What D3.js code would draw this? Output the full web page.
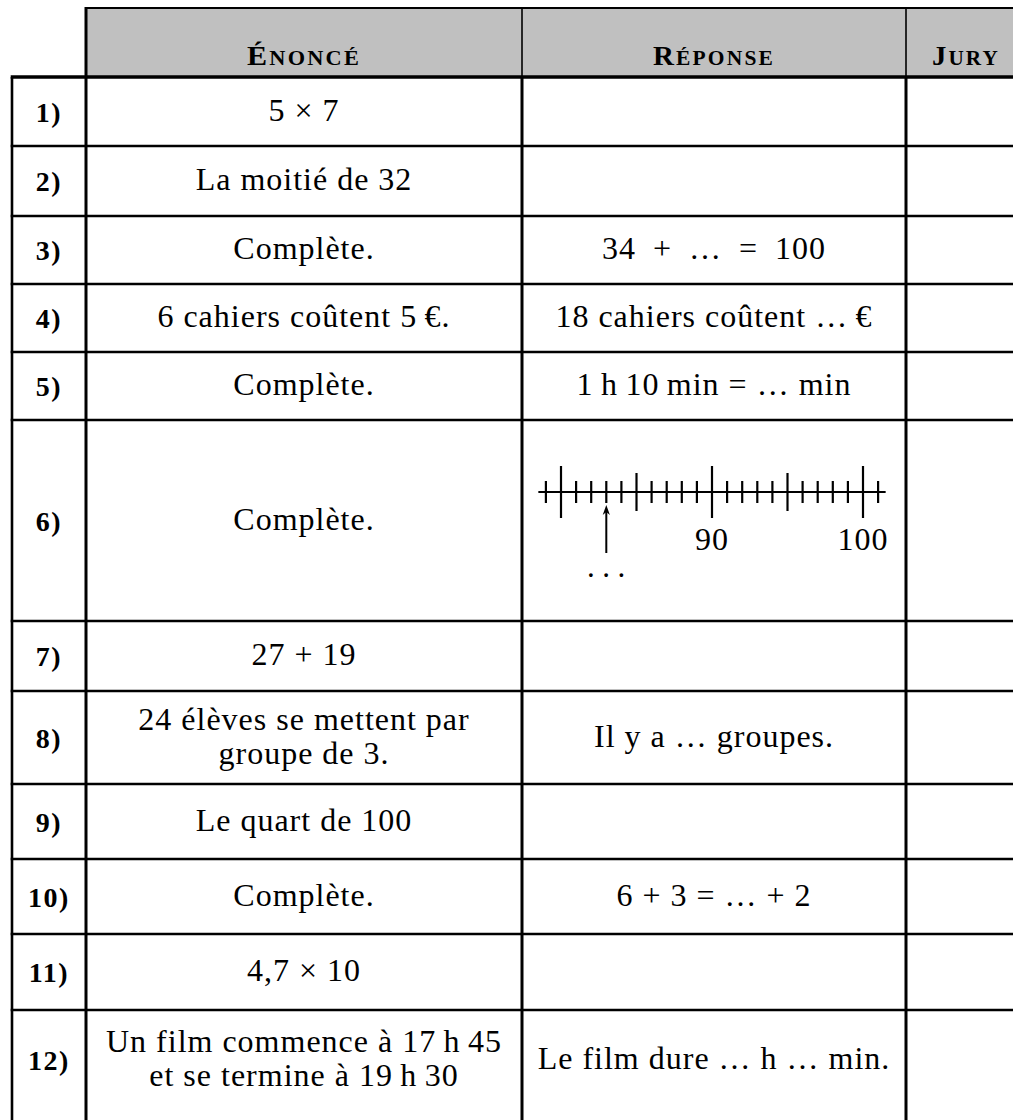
<!DOCTYPE html>
<html>
<head>
<meta charset="utf-8">
<script src="https://cdn.jsdelivr.net/npm/d3@7"></script>
<style>
  body { margin: 0; background: #fff; }
  text { font-family: "Liberation Serif", "Times New Roman", serif; fill: #000; white-space: pre; }
</style>
</head>
<body>
<div id="table"></div>
<script>

// Table content
const headers = ["Énoncé", "Réponse", "Jury"];

const rowLabels = ["1)", "2)", "3)", "4)", "5)", "6)", "7)", "8)", "9)", "10)", "11)", "12)"];

const enonce = [
  "5 × 7",
  "La moitié de 32",
  "Complète.",
  "6 cahiers coûtent 5\u2009€.",
  "Complète.",
  "Complète.",
  "27 + 19",
  ["24 élèves se mettent par", "groupe de 3."],
  "Le quart de 100",
  "Complète.",
  "4,7 × 10",
  ["Un film commence à 17\u2009h\u200945", "et se termine à 19\u2009h\u200930"]
];

const reponse = [
  "",
  "",
  "34\u2002+\u2002…\u2002=\u2002100",
  "18 cahiers coûtent …\u2009€",
  "1\u2009h\u200910\u2009min = … min",
  "NUMBER_LINE",
  "",
  "Il y a … groupes.",
  "",
  "6 + 3 = … + 2",
  "",
  "Le film dure … h … min."
];

// Number line in question 6
const tickValues = [79, 80, 81, 82, 83, 84, 85, 86, 87, 88, 89, 90, 91, 92, 93, 94, 95, 96, 97, 98, 99, 100, 101];
const majorTicks = [80, 90, 100];
const midTicks = [85, 95];
const tickLabels = [90, 100];
const arrowValue = 83;

// Layout
const width = 1013, height = 1120;
const colEdges = [12, 86, 522, 906, 1026];
const headerTop = 8, headerBottom = 77;
const rowHeights = [69, 70, 68, 68, 68, 201, 70, 93, 75, 75, 76, 100];
const headerWidths = [114, 122, 68];
const lineGap = [0, 0, 0, 0, 0, 0, 0, 34, 0, 0, 0, 34];

const svg = d3.select("#table")
  .append("svg")
  .attr("width", width)
  .attr("height", height);

// top of each row (last value = bottom of last row)
const rowTops = [headerBottom, ...Array.from(d3.cumsum(rowHeights), d => headerBottom + d)];
const colCenter = i => (colEdges[i] + colEdges[i + 1]) / 2;
const rowCenter = i => (rowTops[i] + rowTops[i + 1]) / 2;

/* Header band */
svg.append("rect")
  .attr("x", colEdges[1])
  .attr("y", headerTop)
  .attr("width", colEdges[4] - colEdges[1])
  .attr("height", headerBottom - headerTop)
  .attr("fill", "#c0c0c0");

const headerText = svg.selectAll("text.header")
  .data(headers)
  .enter()
  .append("text")
    .attr("class", "header")
    .attr("x", (d, i) => colCenter(i + 1))
    .attr("y", 65)
    .attr("text-anchor", "middle")
    .attr("font-weight", "bold")
    .attr("letter-spacing", "2px")
    .attr("textLength", (d, i) => headerWidths[i])
    .attr("lengthAdjust", "spacingAndGlyphs");

headerText.append("tspan")
  .attr("font-size", "27px")
  .text(d => d[0].toUpperCase());
headerText.append("tspan")
  .attr("font-size", "20px")
  .text(d => d.slice(1).toUpperCase());

/* Grid lines */
const grid = svg.append("g").attr("stroke", "#000");

// header top and header verticals
grid.append("line")
  .attr("x1", colEdges[1] - 1).attr("x2", colEdges[4])
  .attr("y1", headerTop).attr("y2", headerTop)
  .attr("stroke-width", 2);

grid.selectAll("line.hv")
  .data([2, 3])
  .enter()
  .append("line")
    .attr("x1", i => colEdges[i]).attr("x2", i => colEdges[i])
    .attr("y1", headerTop).attr("y2", headerBottom)
    .attr("stroke-width", 1.6);

// body verticals
grid.selectAll("line.bv")
  .data([0, 1, 2, 3])
  .enter()
  .append("line")
    .attr("x1", i => colEdges[i]).attr("x2", i => colEdges[i])
    .attr("y1", i => i === 1 ? headerTop - 1 : headerBottom)
    .attr("y2", height)
    .attr("stroke-width", i => i === 0 ? 2.6 : 3);

// horizontal row lines (the last row runs off the page)
grid.selectAll("line.rh")
  .data(rowTops.slice(0, rowHeights.length))
  .enter()
  .append("line")
    .attr("x1", colEdges[0] - 1.3).attr("x2", colEdges[4])
    .attr("y1", d => d).attr("y2", d => d)
    .attr("stroke-width", (d, i) => i === 0 ? 3.3 : 2.6);

/* Row numbers */
svg.selectAll("text.label")
  .data(rowLabels)
  .enter()
  .append("text")
    .attr("class", "label")
    .attr("x", colCenter(0))
    .attr("y", (d, i) => rowCenter(i) + 10)
    .attr("text-anchor", "middle")
    .attr("font-weight", "bold")
    .attr("font-size", "28px")
    .attr("letter-spacing", "1.5px")
    .text(d => d);

/* Cell texts */
function addCell(col, content, i) {
  if (!content || content === "NUMBER_LINE") return;
  const lines = Array.isArray(content) ? content : [content];
  const gap = lineGap[i];
  const first = rowCenter(i) + 9 - gap * (lines.length - 1) / 2;
  svg.append("g")
    .selectAll("text")
    .data(lines)
    .enter()
    .append("text")
      .attr("x", colCenter(col))
      .attr("y", (d, k) => first + k * gap)
      .attr("text-anchor", "middle")
      .attr("font-size", "32px")
      .attr("letter-spacing", "1px")
      .text(d => d);
}

enonce.forEach((d, i) => addCell(1, d, i));
reponse.forEach((d, i) => addCell(2, d, i));

/* Number line (question 6) */
const nlRow = reponse.indexOf("NUMBER_LINE");
const top6 = rowTops[nlRow];
const axisY = top6 + 72;

const xLine = d3.scaleLinear()
  .domain([80, 100])
  .range([561, 863]);

const nl = svg.append("g").attr("stroke", "#000").attr("stroke-width", 2.2);

nl.append("line")
  .attr("x1", xLine(78.5)).attr("x2", xLine(101.5))
  .attr("y1", axisY).attr("y2", axisY);

const tickHalf = v => majorTicks.includes(v) ? 26 : (midTicks.includes(v) ? 19 : 11);

nl.selectAll("line.tick")
  .data(tickValues)
  .enter()
  .append("line")
    .attr("x1", d => xLine(d)).attr("x2", d => xLine(d))
    .attr("y1", d => axisY - tickHalf(d))
    .attr("y2", d => axisY + tickHalf(d));

svg.selectAll("text.nllabel")
  .data(tickLabels)
  .enter()
  .append("text")
    .attr("x", d => xLine(d))
    .attr("y", axisY + 58)
    .attr("text-anchor", "middle")
    .attr("font-size", "32px")
    .attr("letter-spacing", "1px")
    .text(d => d);

// arrow pointing at the unknown graduation
const ax = xLine(arrowValue);
nl.append("line")
  .attr("x1", ax).attr("x2", ax)
  .attr("y1", axisY + 61).attr("y2", axisY + 18)
  .attr("stroke-width", 2);

svg.append("path")
  .attr("d", `M${ax},${axisY + 13} L${ax + 3.6},${axisY + 23} L${ax},${axisY + 20} L${ax - 3.6},${axisY + 23} Z`)
  .attr("fill", "#000");

svg.append("text")
  .attr("x", ax + 3.5)
  .attr("y", axisY + 85)
  .attr("text-anchor", "middle")
  .attr("font-size", "31px")
  .attr("letter-spacing", "7.5px")
  .text("...");

</script>
</body>
</html>
